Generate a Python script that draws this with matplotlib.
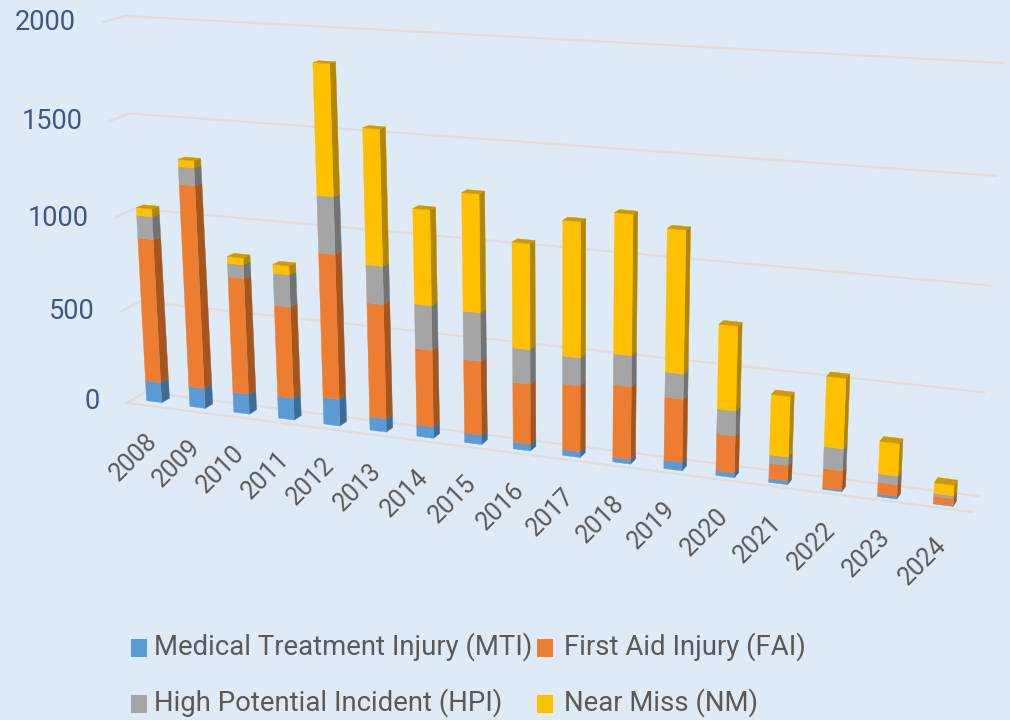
import numpy as np
import matplotlib
matplotlib.use('Agg')
import matplotlib.pyplot as plt
from matplotlib.patches import Rectangle

years = ['2008','2009','2010','2011','2012','2013','2014','2015','2016','2017','2018','2019','2020','2021','2022','2023','2024']
mti = [108,107,106,115,139,69,59,49,34,29,24,42,23,19,9,14,5]
fai = [758,1058,606,476,745,587,392,375,304,331,362,312,183,74,93,55,32]
hpi = [118,91,71,165,288,192,225,243,173,139,152,123,122,42,106,41,14]
nm = [41,36,35,45,651,676,475,583,521,661,680,689,408,293,337,156,50]
y_ticks = [0,500,1000,1500,2000]

names = ['Medical Treatment Injury (MTI)','First Aid Injury (FAI)','High Potential Incident (HPI)','Near Miss (NM)']
front_cols = ['#5B9BD5','#ED7D31','#A5A5A5','#FFC000']
side_cols = ['#3E6C96','#A5561F','#737373','#B38600']
top_col = '#CC9A00'
bg = '#DEEAF6'
grid_col = '#DFDCDA'

plt.rcParams['font.family'] = ['Roboto','Liberation Sans','DejaVu Sans']


def homography(src, dst):
	# least squares fit, src and dst are lists of (x,y)
	A = []
	b = []
	for (x,y),(u,v) in zip(src,dst):
		A.append([x,y,1,0,0,0,-u*x,-u*y])
		A.append([0,0,0,x,y,1,-v*x,-v*y])
		b.append(u)
		b.append(v)
	h = np.linalg.lstsq(np.array(A,float),np.array(b,float),rcond=None)[0]
	return np.append(h,1).reshape(3,3)


def project(H,x,y):
	p = H @ np.array([x,y,1.0])
	return p[0]/p[2],p[1]/p[2]


src = [(0,0),(4,0),(8,0),(12,0),(16,0),(0,2000),(4,2000),(8,2000),(12,2000),(16,2000)]
front_pts = [(155,403),(331,426),(521,449),(725,475),(944,505),(135,13),(319,26),(519,39),(735,52),(966,65)]
back_off = [(7.5,-4.3),(7,-5),(6,-5.5),(4.5,-5),(3,-4.5),(6.5,-1),(6,-1.5),(5.5,-2),(4.5,-2.5),(3.5,-3)]
front = homography(src,front_pts)
back = homography(src,[(p[0]+o[0],p[1]+o[1]) for p,o in zip(front_pts,back_off)])
wall_corners = [(0,0),(1,0),(0,2000),(1,2000)]
wall_back = homography(wall_corners,[(145,392),(978,496),(125,16),(1003,63)])
wall_front = homography(wall_corners,[(127,403),(972,512),(103,22),(997,79)])

fig = plt.figure(figsize=(10.1,7.2),dpi=100,facecolor=bg)
ax = fig.add_axes([0,0,1,1])
ax.set_xlim(0,1010)
ax.set_ylim(720,0)
ax.axis('off')

# gridlines
for t in y_ticks:
	a = project(wall_front,0,t)
	b = project(wall_back,0,t)
	c = project(wall_back,1,t)
	ax.plot([a[0],b[0],c[0]],[a[1],b[1],c[1]],color=grid_col,lw=1.6,zorder=1,solid_joinstyle='miter')
	dy = -2 if t == 0 else 0.5
	ax.text(a[0]-27,a[1]+dy,str(t),ha='right',va='center',fontsize=19.5,color='#3F5785')
a = project(wall_front,0,0)
b = project(wall_front,1,0)
ax.plot([a[0],b[0]],[a[1],b[1]],color=grid_col,lw=1.6,zorder=1)

# stacked bars, front + right side + top
w = 0.175
series = [mti,fai,hpi,nm]
for i in range(len(years)):
	base = 0
	for s in range(4):
		top = base+series[s][i]
		fl0 = project(front,i-w,base)
		fr0 = project(front,i+w,base)
		fr1 = project(front,i+w,top)
		fl1 = project(front,i-w,top)
		br0 = project(back,i+w,base)
		br1 = project(back,i+w,top)
		ax.fill([fr0[0],br0[0],br1[0],fr1[0]],[fr0[1],br0[1],br1[1],fr1[1]],color=side_cols[s],lw=0.3,zorder=2+i*0.01)
		ax.fill([fl0[0],fr0[0],fr1[0],fl1[0]],[fl0[1],fr0[1],fr1[1],fl1[1]],color=front_cols[s],lw=0.3,zorder=2+i*0.01)
		base = top
	bl1 = project(back,i-w,base)
	ax.fill([fl1[0],fr1[0],br1[0],bl1[0]],[fl1[1],fr1[1],br1[1],bl1[1]],color=top_col,lw=0.3,zorder=2+i*0.01)
	p = project(front,i,0)
	ax.text(p[0]-1,p[1]+36,years[i],rotation=45,rotation_mode='anchor',ha='right',va='center',fontsize=18,color='#595959')

# legend
leg_x = [131,537]
txt_x = [154.5,563.5]
leg_y = [648,704]
for k in range(4):
	cy = leg_y[k//2]
	ax.add_patch(Rectangle((leg_x[k%2],cy-9),16,18,color=front_cols[k],lw=0))
	ax.text(txt_x[k%2],cy-1,names[k],ha='left',va='center',fontsize=19.8,color='#595959')

fig.savefig('out.png',dpi=100,facecolor=bg)
